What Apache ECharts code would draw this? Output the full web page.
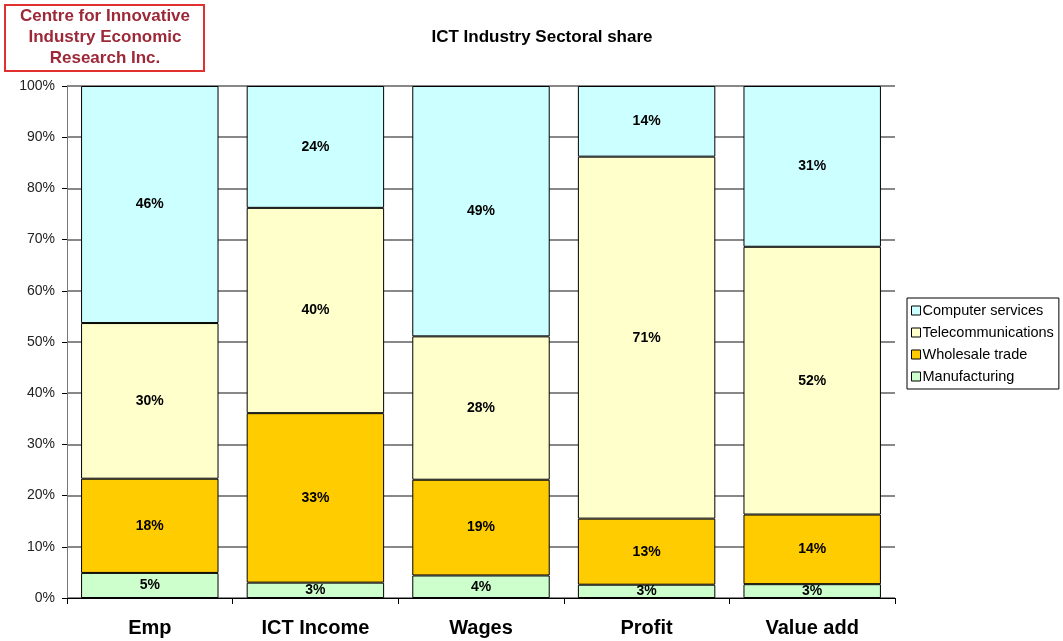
<!DOCTYPE html>
<html>
<head>
<meta charset="utf-8">
<script src="https://cdn.jsdelivr.net/npm/echarts@6/dist/echarts.min.js"></script>
<style>
html, body { margin: 0; padding: 0; background: #fff; }
#main { width: 1063px; height: 641px; }
</style>
</head>
<body>
<div id="main"></div>
<script>
const categories = ['Emp', 'ICT Income', 'Wages', 'Profit', 'Value add'];
const manufacturing = [4.9, 3.0, 4.4, 2.6, 2.7];
const wholesale = [18.4, 33.1, 18.7, 12.9, 13.6];
const telecom = [30.4, 40.1, 28.0, 70.7, 52.3];
const computer = [46.3, 23.8, 48.9, 13.8, 31.4];
const yTicks = [0, 10, 20, 30, 40, 50, 60, 70, 80, 90, 100];

const font = 'Liberation Sans, Arial, sans-serif';

function makeSeries(name, data, color) {
    return {
        name: name,
        type: 'bar',
        stack: 'share',
        data: data,
        barCategoryGap: '17%',
        itemStyle: { color: color, borderColor: '#000', borderWidth: 1 },
        label: {
            show: true,
            position: 'inside',
            color: '#000',
            fontFamily: font,
            fontWeight: 'bold',
            fontSize: 14,
            formatter: p => Math.round(p.value) + '%'
        }
    };
}

const chart = echarts.init(document.getElementById('main'));
const option = {
    animation: false,
    textStyle: { fontFamily: font },
    title: {
        text: 'ICT Industry Sectoral share',
        left: 537,
        textAlign: 'center',
        top: 24,
        textStyle: { fontFamily: font, fontSize: 17, fontWeight: 'bold', color: '#000' }
    },
    graphic: [
        {
            type: 'rect',
            shape: { x: 5, y: 5, width: 199, height: 66 },
            style: { fill: '#fff', stroke: '#e03030', lineWidth: 2 }
        },
        {
            type: 'text',
            x: 105,
            y: 6,
            style: {
                text: 'Centre for Innovative\nIndustry Economic\nResearch Inc.',
                textAlign: 'center',
                fill: '#9c2838',
                font: 'bold 17px ' + font,
                lineHeight: 21
            }
        }
    ],
    legend: {
        orient: 'vertical',
        left: 907,
        top: 298,
        padding: [5, 5, 5, 4],
        itemGap: 7,
        itemWidth: 9,
        itemHeight: 9,
        borderColor: '#000',
        borderWidth: 1,
        icon: 'rect',
        itemStyle: { borderColor: '#000', borderWidth: 1 },
        textStyle: { fontFamily: font, fontSize: 14.5, color: '#000', padding: [0, 0, 0, -3] },
        data: ['Computer services', 'Telecommunications', 'Wholesale trade', 'Manufacturing']
    },
    grid: { left: 67, right: 168, top: 86, bottom: 43 },
    xAxis: {
        type: 'category',
        data: categories,
        axisLine: { lineStyle: { color: '#000' } },
        axisTick: { show: true, length: 6, lineStyle: { color: '#000' } },
        axisLabel: { fontFamily: font, fontSize: 20, fontWeight: 'bold', color: '#000', margin: 20 }
    },
    yAxis: {
        type: 'value',
        min: 0,
        max: 100,
        interval: 10,
        axisLine: { show: true, lineStyle: { color: '#777' } },
        axisTick: { show: true, length: 5, lineStyle: { color: '#000' } },
        axisLabel: {
            fontFamily: font, fontSize: 14, color: '#222', margin: 12,
            formatter: v => yTicks.includes(v) ? v + '%' : ''
        },
        splitLine: { lineStyle: { color: '#888', width: 2 } }
    },
    series: [
        makeSeries('Manufacturing', manufacturing, '#CCFFCC'),
        makeSeries('Wholesale trade', wholesale, '#FFCC00'),
        makeSeries('Telecommunications', telecom, '#FFFFCC'),
        makeSeries('Computer services', computer, '#CCFFFF')
    ]
};
chart.setOption(option);
</script>
</body>
</html>
